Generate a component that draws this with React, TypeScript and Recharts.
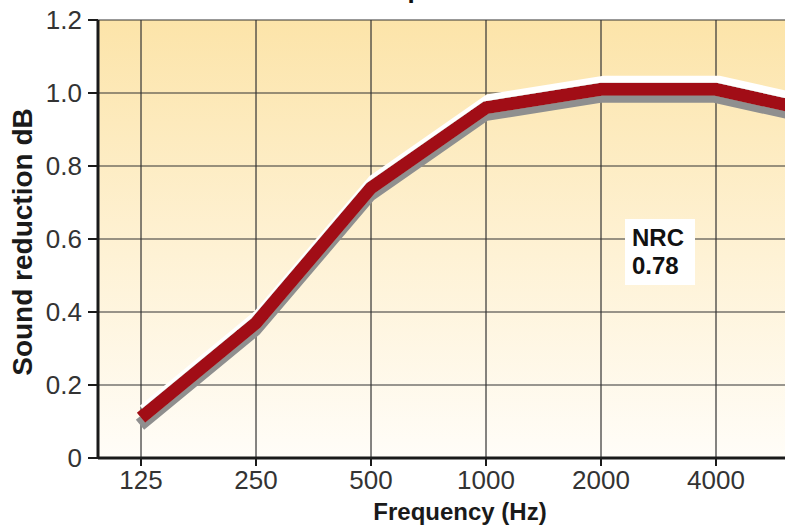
import { LineChart, Line, XAxis, YAxis, CartesianGrid, Label } from 'recharts';

const freqs = ['125', '250', '500', '1000', '2000', '4000', '8000'];
const reduction = [0.11, 0.37, 0.74, 0.96, 1.01, 1.01, 0.94];
const yTicks = [0, 0.2, 0.4, 0.6, 0.8, 1.0, 1.2];
const xTicks = [0, 1, 2, 3, 4, 5];

const data = freqs.map((f, i) => ({ x: i, freq: f, value: reduction[i] }));

const FONT = '"Liberation Sans", Arial, sans-serif';

const XTitle = () => (
  <text x={460} y={520} textAnchor="middle" fontFamily={FONT} fontWeight="bold" fontSize={24} fill="#1a1a1a">
    Frequency (Hz)
  </text>
);

const YTitle = () => (
  <text
    x={32}
    y={242}
    transform="rotate(-90 32 242)"
    textAnchor="middle"
    fontFamily={FONT}
    fontWeight="bold"
    fontSize={28}
    fill="#1a1a1a"
  >
    Sound reduction dB
  </text>
);

const App = () => {
  return (
    <div style={{ position: 'relative', width: 785, height: 528, overflow: 'hidden', background: '#fff' }}>
      <style>{'body{margin:0;overflow:hidden}'}</style>
      <svg width={785} height={10} style={{ position: 'absolute', left: 0, top: 0 }}>
        <text x={442} y={-2} textAnchor="middle" fontFamily={FONT} fontWeight="bold" fontSize={26} fill="#111">
          Photosorpach Test Data
        </text>
      </svg>
      <LineChart width={860} height={528} data={data} margin={{ top: 20, right: 6, bottom: 0, left: 0 }}>
        <defs>
          <linearGradient id="bgFill" x1="0" y1="0" x2="0" y2="1">
            <stop offset="0%" stopColor="#fce4a9" />
            <stop offset="50%" stopColor="#fef1d2" />
            <stop offset="100%" stopColor="#fffdf8" />
          </linearGradient>
          <filter id="lineFx" filterUnits="userSpaceOnUse" x={0} y={0} width={900} height={528}>
            <feOffset in="SourceAlpha" dx={3} dy={-7} result="upA" />
            <feFlood floodColor="#ffffff" result="white" />
            <feComposite in="white" in2="upA" operator="in" result="hi" />
            <feOffset in="SourceAlpha" dx={-1} dy={7} result="downA" />
            <feFlood floodColor="#8f8f8f" result="gray" />
            <feComposite in="gray" in2="downA" operator="in" result="sh" />
            <feMerge>
              <feMergeNode in="hi" />
              <feMergeNode in="sh" />
              <feMergeNode in="SourceGraphic" />
            </feMerge>
          </filter>
        </defs>
        <CartesianGrid stroke="#333" strokeWidth={1.2} fill="url(#bgFill)" fillOpacity={1} />
        <XAxis
          type="number"
          dataKey="x"
          domain={[-0.374, 6.2]}
          ticks={xTicks}
          allowDataOverflow
          tickFormatter={(v: number) => freqs[v]}
          height={70}
          axisLine={{ stroke: '#1a1a1a', strokeWidth: 3 }}
          tickLine={{ stroke: '#1a1a1a', strokeWidth: 2 }}
          tickSize={8}
          tickMargin={5}
          tick={{ fill: '#333', fontSize: 26, fontFamily: FONT }}
        >
          <Label content={<XTitle />} />
        </XAxis>
        <YAxis
          type="number"
          domain={[0, 1.2]}
          ticks={yTicks}
          width={98}
          tickFormatter={(v: number) => (v === 0 ? '0' : v.toFixed(1))}
          axisLine={{ stroke: '#1a1a1a', strokeWidth: 3 }}
          tickLine={{ stroke: '#1a1a1a', strokeWidth: 2 }}
          tickSize={10}
          tickMargin={6}
          tick={{ fill: '#333', fontSize: 26, fontFamily: FONT }}
        >
          <Label content={<YTitle />} />
        </YAxis>
        <Line
          type="linear"
          dataKey="value"
          stroke="#a10e15"
          strokeWidth={13}
          strokeLinecap="butt"
          strokeLinejoin="miter"
          dot={false}
          activeDot={false}
          filter="url(#lineFx)"
          isAnimationActive={false}
        />
      </LineChart>
      <div
        style={{
          position: 'absolute',
          left: 625,
          top: 219,
          width: 70,
          height: 66,
          background: '#fff',
          fontFamily: FONT,
          fontWeight: 'bold',
          fontSize: 24,
          lineHeight: '28px',
          color: '#111',
          paddingLeft: 7,
          paddingTop: 5,
          boxSizing: 'border-box',
        }}
      >
        NRC
        <br />
        0.78
      </div>
    </div>
  );
};

export default App;
